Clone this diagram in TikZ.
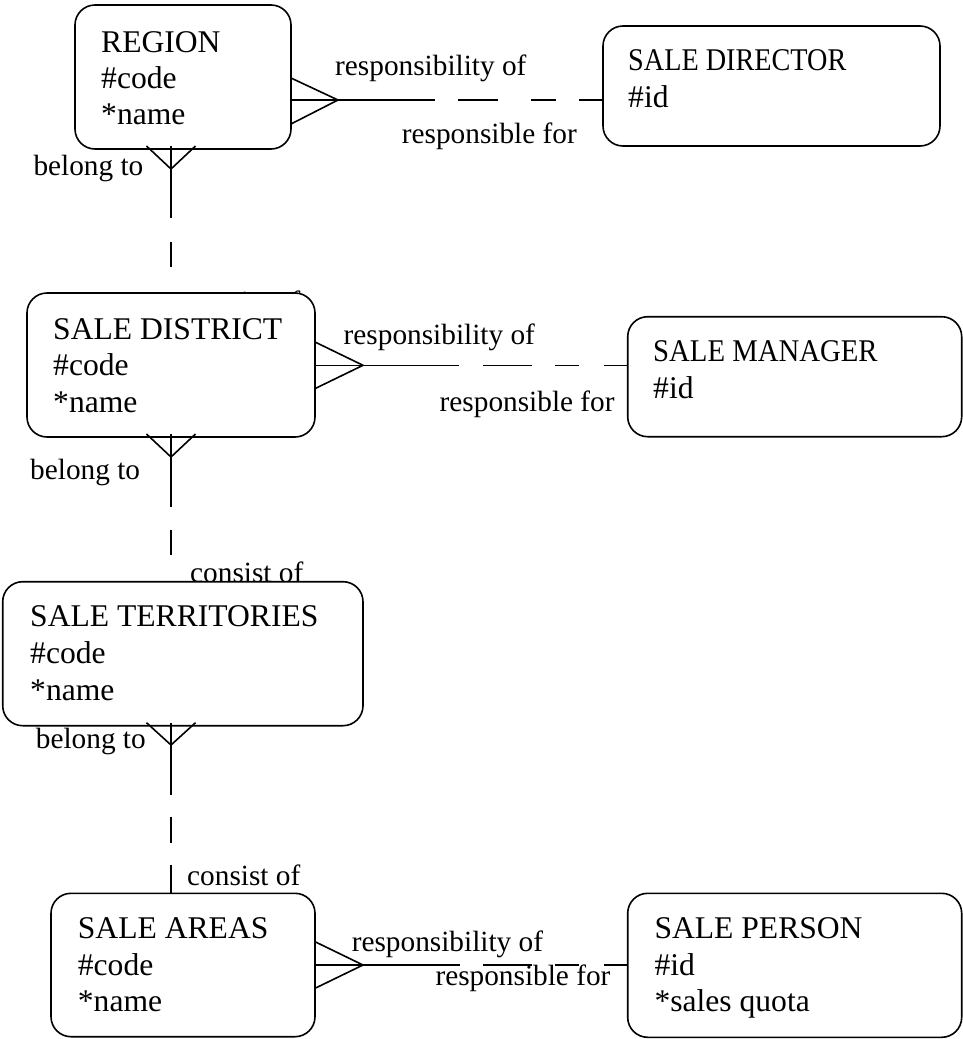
\documentclass[tikz,border=0pt]{standalone}
\usepackage{graphicx}
\usepackage{fontspec}
\setmainfont{Liberation Serif}
\usetikzlibrary{calc}
\tikzset{
  ent/.style={draw, rounded corners=20pt, fill=white, inner sep=0pt, outer sep=0pt, anchor=north west, line width=1.6pt},
  etxt/.style={anchor=base west, inner sep=0pt, font=\fontsize{31.6}{36.7}\selectfont},
  ltxt/.style={anchor=base west, inner sep=0pt, font=\fontsize{29.3}{34}\selectfont},
  conn/.style={line width=1.6pt, line cap=butt},
}
\begin{document}
\begin{tikzpicture}[x=1pt,y=-1pt]
\useasboundingbox (0,0) rectangle (963,1039);

% labels partly hidden behind boxes
\node[ltxt] (l-dist-consist) at (187,311) {consist of};
\node[ltxt] (l-terr-consist) at (190,582) {consist of};

% entity boxes
\node[ent, minimum width=216pt, minimum height=144pt] (region) at (75,5) {};
\node[ent, minimum width=337pt, minimum height=120pt] (director) at (603,26) {};
\node[ent, minimum width=288pt, minimum height=144pt] (district) at (27,293) {};
\node[ent, minimum width=334pt, minimum height=120pt] (manager) at (627.7,316.7) {};
\node[ent, minimum width=360.3pt, minimum height=144pt] (territories) at (2.7,581.7) {};
\node[ent, minimum width=264pt, minimum height=143.4pt] (areas) at (51,893.3) {};
\node[ent, minimum width=334pt, minimum height=144pt] (person) at (627.7,893.3) {};

% entity texts
\node[etxt] (region-t1) at (101,52) {REGION};
\node[etxt] (region-t2) at (101,88) {\#code};
\node[etxt] (region-t3) at (101,124) {*name};

\node[etxt] (director-t1) at (628,70) {\scalebox{0.893}[1]{SALE DIRECTOR}};
\node[etxt] (director-t2) at (628,107) {\#id};

\node[etxt] (district-t1) at (53,339) {SALE DISTRICT};
\node[etxt] (district-t2) at (53,375) {\#code};
\node[etxt] (district-t3) at (53,412) {*name};

\node[etxt] (manager-t1) at (653,361.7) {\scalebox{0.91}[1]{SALE MANAGER}};
\node[etxt] (manager-t2) at (653,398) {\#id};

\node[etxt] (territories-t1) at (30,626.7) {SALE TERRITORIES};
\node[etxt] (territories-t2) at (30,663) {\#code};
\node[etxt] (territories-t3) at (30,700) {*name};

\node[etxt] (areas-t1) at (77.7,938.3) {SALE AREAS};
\node[etxt] (areas-t2) at (77.7,975) {\#code};
\node[etxt] (areas-t3) at (77.7,1011.7) {*name};

\node[etxt] (person-t1) at (654.3,938.3) {SALE PERSON};
\node[etxt] (person-t2) at (654.3,975) {\#id};
\node[etxt] (person-t3) at (654.3,1011.7) {*sales quota};

% ---- REGION -- SALE DIRECTOR
\coordinate (rd-tip) at (338,100);
\coordinate (rd-mid) at (435,100);
\draw[conn] ($(region.east |- rd-tip)+(0,-22)$) -- (rd-tip) -- ($(region.east |- rd-tip)+(0,24)$);
\draw[conn] (region.east |- rd-tip) -- (rd-tip) -- (rd-mid);
\draw[conn, dash pattern=on 24pt off 23pt on 25pt off 33pt on 40pt off 60pt] (director.west |- rd-tip) -- (rd-mid);

% ---- SALE DISTRICT -- SALE MANAGER
\coordinate (dm-tip) at (363,365.3);
\coordinate (dm-mid) at (458.6,365.3);
\draw[conn] ($(district.east |- dm-tip)+(0,-23.3)$) -- (dm-tip) -- ($(district.east |- dm-tip)+(0,23.3)$);
\draw[conn] (district.east |- dm-tip) -- (dm-tip) -- (dm-mid);
\draw[conn, dash pattern=on 24.1pt off 24.6pt on 24pt off 23.3pt on 49pt off 60pt] (manager.west |- dm-tip) -- (dm-mid);

% ---- SALE AREAS -- SALE PERSON
\coordinate (ap-tip) at (363,965);
\coordinate (ap-mid) at (459.8,965);
\draw[conn] ($(areas.east |- ap-tip)+(0,-23.3)$) -- (ap-tip) -- ($(areas.east |- ap-tip)+(0,23.3)$);
\draw[conn] (areas.east |- ap-tip) -- (ap-tip) -- (ap-mid);
\draw[conn, dash pattern=on 24.1pt off 24.6pt on 23.6pt off 23.7pt on 48.7pt off 60pt] (person.west |- ap-tip) -- (ap-mid);

% ---- REGION -- SALE DISTRICT
\coordinate (rg-tip) at (171,169);
\coordinate (rg-mid) at (171,218);
\draw[conn] ($(rg-tip)+(-24.5,-23)$) -- (rg-tip) -- ($(rg-tip)+(24.5,-23)$);
\draw[conn] ($(rg-tip)+(0,-23)$) -- (rg-tip) -- (rg-mid);
\draw[conn, dash pattern=on 0pt off 26pt on 25pt off 60pt] (district.north -| rg-tip) -- (rg-mid);

% ---- SALE DISTRICT -- SALE TERRITORIES
\coordinate (dt-tip) at (171,457);
\coordinate (dt-mid) at (171,506.7);
\draw[conn] ($(dt-tip)+(-24.5,-23)$) -- (dt-tip) -- ($(dt-tip)+(24.5,-23)$);
\draw[conn] ($(dt-tip)+(0,-23)$) -- (dt-tip) -- (dt-mid);
\draw[conn, dash pattern=on 0pt off 26.7pt on 25pt off 60pt] (territories.north -| dt-tip) -- (dt-mid);

% ---- SALE TERRITORIES -- SALE AREAS
\coordinate (ta-tip) at (171,745);
\coordinate (ta-mid) at (171,795);
\draw[conn] ($(ta-tip)+(-24.5,-22.3)$) -- (ta-tip) -- ($(ta-tip)+(24.5,-22.3)$);
\draw[conn] ($(ta-tip)+(0,-22.3)$) -- (ta-tip) -- (ta-mid);
\draw[conn, dash pattern=on 28.3pt off 22.3pt on 25.4pt off 60pt] (areas.north -| ta-tip) -- (ta-mid);

% relationship labels
\node[ltxt] (l-rd-of) at (335,75) {responsibility of};
\node[ltxt] (l-rd-for) at (401.7,143.3) {responsible for};
\node[ltxt] (l-rg-belong) at (33.3,175) {belong to};

\node[ltxt] (l-dm-of) at (343.5,344.3) {responsibility of};
\node[ltxt] (l-dm-for) at (439.5,411.7) {responsible for};
\node[ltxt] (l-dt-belong) at (30,479.3) {belong to};

\node[ltxt] (l-ta-belong) at (35.7,748.3) {belong to};
\node[ltxt] (l-ta-consist) at (187,885) {consist of};

\node[ltxt] (l-ap-of) at (351.6,951.7) {responsibility of};
\node[ltxt] (l-ap-for) at (435.3,985) {responsible for};
\end{tikzpicture}
\end{document}
